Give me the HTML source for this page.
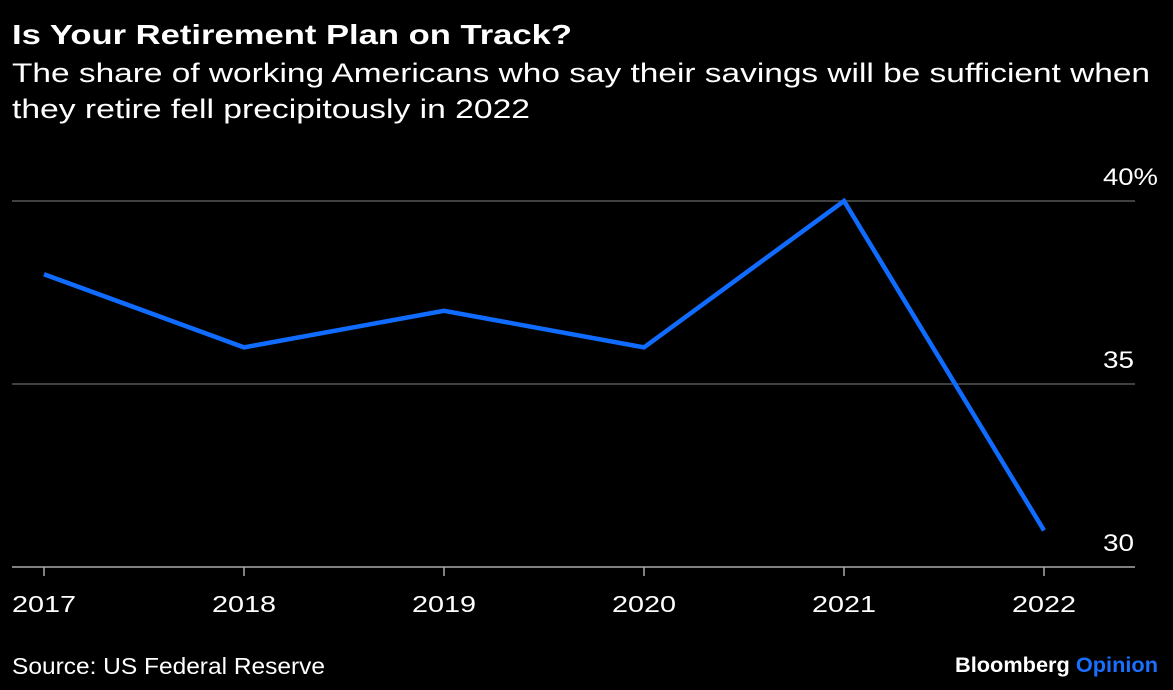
<!DOCTYPE html>
<html><head><meta charset="utf-8"><style>
body{margin:0;background:#000;width:1173px;height:685px;overflow:hidden;font-family:"Liberation Sans",sans-serif;color:#fff}
</style></head><body>
<svg width="1173" height="685">
<text x="12" y="44" font-size="28" font-weight="bold" fill="#fff" textLength="560" lengthAdjust="spacingAndGlyphs">Is Your Retirement Plan on Track?</text>
<text x="12" y="82" font-size="27" fill="#fff" textLength="1138" lengthAdjust="spacingAndGlyphs">The share of working Americans who say their savings will be sufficient when</text>
<text x="12" y="118" font-size="27" fill="#fff" textLength="518" lengthAdjust="spacingAndGlyphs">they retire fell precipitously in 2022</text>
<g id="grid"></g>
<g id="xaxis"></g>
<polyline id="line" fill="none" stroke="#0f6cff" stroke-width="4.5" stroke-linejoin="miter"/>
<text x="12" y="674" font-size="23" fill="#fff" textLength="313" lengthAdjust="spacingAndGlyphs">Source: US Federal Reserve</text>
<text x="955" y="672" font-size="21" font-weight="bold" fill="#fff" textLength="203" lengthAdjust="spacingAndGlyphs">Bloomberg <tspan fill="#1a6fff">Opinion</tspan></text>
</svg>
<script>
const years=["2017","2018","2019","2020","2021","2022"];
const values=[38,36,37,36,40,31];
const yTicks=[40,35,30];
const yTickLabels=["40%","35","30"];
const ns="http://www.w3.org/2000/svg";
function xs(i){return 44+i*200;}
function ys(v){return 567-(v-30)*36.6;}
const grid=document.getElementById('grid');
yTicks.forEach((t,i)=>{
 const l=document.createElementNS(ns,'line');
 l.setAttribute('x1',12);l.setAttribute('x2',1135);l.setAttribute('y1',ys(t));l.setAttribute('y2',ys(t));
 l.setAttribute('stroke',i===yTicks.length-1?'#aaa':'#666');l.setAttribute('stroke-width',i===yTicks.length-1?1.5:1.2);
 
 
 grid.appendChild(l);
 const tx=document.createElementNS(ns,'text');
 tx.setAttribute('x',1103);tx.setAttribute('y',ys(t)-16);
 tx.setAttribute('font-size','24');tx.setAttribute('fill','#fff');tx.textContent=yTickLabels[i];
 tx.setAttribute('textLength',yTickLabels[i].length===3?'55':'31');tx.setAttribute('lengthAdjust','spacingAndGlyphs');
 
 
 grid.appendChild(tx);
});
const xa=document.getElementById('xaxis');
years.forEach((y,i)=>{
 const l=document.createElementNS(ns,'line');
 l.setAttribute('x1',xs(i));l.setAttribute('x2',xs(i));l.setAttribute('y1',567);l.setAttribute('y2',576);
 l.setAttribute('stroke','#aaa');l.setAttribute('stroke-width',1.5);
 
 
 xa.appendChild(l);
 const tx=document.createElementNS(ns,'text');
 tx.setAttribute('x',xs(i)-32);tx.setAttribute('y',612);
 tx.setAttribute('font-size','23');tx.setAttribute('fill','#fff');tx.textContent=y;
 tx.setAttribute('textLength','64');tx.setAttribute('lengthAdjust','spacingAndGlyphs');
 
 
 xa.appendChild(tx);
});
document.getElementById('line').setAttribute('points',values.map((v,i)=>xs(i)+','+ys(v)).join(' '));
</script>
</body></html>
